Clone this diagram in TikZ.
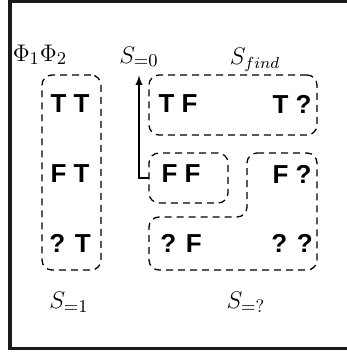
\documentclass[tikz,border=0pt]{standalone}
\usepackage{fontspec}
\newfontfamily\cellfont{Liberation Sans}
\begin{document}
\begin{tikzpicture}[x=0.5pt,y=-0.5pt,
    cell/.style={font=\cellfont\bfseries\fontsize{13}{15}\selectfont, inner sep=0pt},
    setname/.style={font=\fontsize{12.5}{15}\selectfont, inner sep=1pt},
    setbox/.style={draw, dashed, dash pattern=on 3.5pt off 2.5pt, line width=0.65pt,
        rounded corners=5pt, inner sep=0pt, outer sep=0pt}]
    % Define colours
    \definecolor{frameColour}{HTML}{1A1A1A}

    % Fix the bounding box and draw the frame
    \useasboundingbox (0,0) rectangle (347,358);
    \clip (0,0) rectangle (347,358);
    \draw[frameColour, line width=1.75pt] (10,1.5) rectangle (370,348.5);

    % Labels of the sets
    \node[setname] (phi) at (40,55) {$\Phi_1\Phi_2$};
    \node[setname] (szero) at (139,57) {$S_{=0}$};
    \node[setname, font=\fontsize{11.5}{14}\selectfont] (sfind) at (255,60) {$S_{find}$};
    \node[setname] (sone) at (69,302) {$S_{=1}$};
    \node[setname] (sunk) at (246,302) {$S_{=?}$};

    % The truth value pairs
    \node[cell] (tt) at (70,104) {T T};
    \node[cell] (ft) at (70,174) {F T};
    \node[cell] (qt) at (70,243) {? T};
    \node[cell] (tf) at (178,104) {T F};
    \node[cell] (tq) at (292,104) {T ?};
    \node[cell] (ff) at (181,174) {F F};
    \node[cell] (fq) at (292,174) {F ?};
    \node[cell] (qf) at (181,243) {? F};
    \node[cell] (qq) at (292,243) {? ?};

    % Draw the dashed sets
    \node[setbox, minimum width=29.5pt, minimum height=97.5pt] (onebox) at (71.5,172.5) {};
    \node[setbox, minimum width=84pt, minimum height=30pt] (findbox) at (233,105) {};
    \node[setbox, minimum width=39.5pt, minimum height=25pt] (ffbox) at (188.5,178) {};
    \draw[setbox] (247,153) -- (317,153) -- (317,270) -- (149,270) -- (149,217)
        -- (247,217) -- cycle;

    % Arrow from FF to S=0
    \draw[line width=0.65pt, -latex, shorten >=3pt] (ffbox.west) -| (szero.south);

\end{tikzpicture}
\end{document}
